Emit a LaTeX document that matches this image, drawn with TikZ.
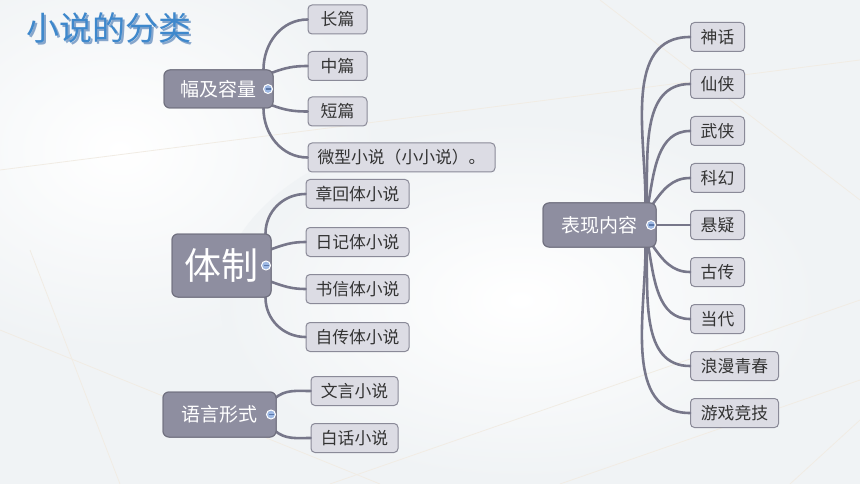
\documentclass[tikz,border=0pt]{standalone}
\usepackage{fontspec}
\setmainfont{Noto Sans CJK SC}
\newfontfamily\cjk{Noto Sans CJK SC}
\usetikzlibrary{calc}
\definecolor{bgc}{HTML}{F0F3F5}
\definecolor{pfill}{HTML}{8E8EA0}
\definecolor{pdraw}{HTML}{70707F}
\definecolor{cfill}{HTML}{DCDCE4}
\definecolor{cdraw}{HTML}{8A8A98}
\definecolor{linkc}{HTML}{77778A}
\definecolor{ctext}{HTML}{333333}
\definecolor{titlec}{HTML}{3E88CC}
\definecolor{titlesh}{HTML}{86A6CC}
\definecolor{iconf}{HTML}{9DB8E4}
\definecolor{iconbar}{HTML}{5C78A8}
\definecolor{decoline}{HTML}{F1ECE4}
\tikzset{
  parentbox/.style={draw=pdraw, line width=1pt, fill=pfill, rounded corners=6pt, text=white, inner sep=0pt, font=\cjk\fontsize{19}{22}\selectfont},
  childbox/.style={draw=cdraw, line width=1pt, fill=cfill, rounded corners=4pt, text=ctext, inner sep=0pt, minimum height=29pt, font=\cjk\fontsize{16.8}{20}\selectfont},
  link/.style={draw=linkc, line width=2.6pt, line cap=round},
  minusicon/.style={circle, draw=white, line width=1pt, fill=iconf, minimum size=9pt, inner sep=0pt},
}
\newcommand{\minusmark}[1]{%
  \node[minusicon] (#1i) at ($(#1.east)+(-5.5,0)$) {};
  \draw[iconbar, line width=1.1pt] ($(#1i.center)+(-2.5,0)$) -- ($(#1i.center)+(2.5,0)$);}
\newcommand{\shadowtext}[1]{\rlap{\kern2pt\raisebox{-2pt}{\textcolor{titlesh}{#1}}}\textcolor{titlec}{#1}}
\begin{document}
\begin{tikzpicture}[x=1pt,y=-1pt]
\useasboundingbox (0,0) rectangle (860,484);
% background
\fill[bgc] (0,0) rectangle (860,484);
\shade[inner color=white, outer color=bgc] (120,150) ellipse (260 and 200);
\shade[inner color=white, outer color=bgc] (520,300) ellipse (300 and 180);
\draw[decoline, line width=0.8pt] (0,170) -- (860,60);
\draw[decoline, line width=0.8pt] (600,0) -- (860,200);
\draw[decoline, line width=0.8pt] (330,484) -- (860,300);
\draw[decoline, line width=0.8pt] (120,484) -- (30,250);
\draw[decoline, line width=0.8pt] (560,484) -- (860,380);
\draw[decoline, line width=0.8pt] (790,484) -- (860,420);
\draw[decoline, line width=0.8pt] (0,330) -- (380,484);
% title
\node[anchor=west, inner sep=0pt, font=\cjk\fontsize{33}{36}\selectfont] (title) at (26,29) {\shadowtext{小说的分类}};

% group 1
\node[parentbox, minimum width=109pt, minimum height=38pt] (p1) at (218.5,89) {幅及容量};
\node[childbox, minimum width=59pt] (c1a) at (337.5,19.5) {长篇};
\node[childbox, minimum width=59pt] (c1b) at (337.5,66) {中篇};
\node[childbox, minimum width=59pt] (c1c) at (337.5,111.5) {短篇};
\node[childbox, minimum width=187pt] (c1d) at (401.5,157.5) {微型小说（小小说）。};

% group 2
\node[parentbox, minimum width=99pt, minimum height=63pt, font=\cjk\fontsize{37}{40}\selectfont] (p2) at (221.5,265.5) {体制};
\node[childbox, minimum width=103pt] (c2a) at (357.5,194) {章回体小说};
\node[childbox, minimum width=103pt] (c2b) at (357.5,242) {日记体小说};
\node[childbox, minimum width=103pt] (c2c) at (357.5,289) {书信体小说};
\node[childbox, minimum width=103pt] (c2d) at (357.5,337) {自传体小说};

% group 3
\node[parentbox, minimum width=113pt, minimum height=45pt] (p3) at (219.5,414.5) {语言形式};
\node[childbox, minimum width=87pt] (c3a) at (354.5,391) {文言小说};
\node[childbox, minimum width=87pt] (c3b) at (354.5,438) {白话小说};

% group 4
\node[parentbox, minimum width=113pt, minimum height=44pt] (p4) at (599.5,225) {表现内容};
\node[childbox, minimum width=54pt, anchor=west] (c4a) at (690,37) {神话};
\node[childbox, minimum width=54pt, anchor=west] (c4b) at (690,84) {仙侠};
\node[childbox, minimum width=54pt, anchor=west] (c4c) at (690,131) {武侠};
\node[childbox, minimum width=54pt, anchor=west] (c4d) at (690,178) {科幻};
\node[childbox, minimum width=54pt, anchor=west] (c4e) at (690,225) {悬疑};
\node[childbox, minimum width=54pt, anchor=west] (c4f) at (690,272) {古传};
\node[childbox, minimum width=54pt, anchor=west] (c4g) at (690,319) {当代};
\node[childbox, minimum width=88pt, anchor=west] (c4h) at (690,366) {浪漫青春};
\node[childbox, minimum width=88pt, anchor=west] (c4i) at (690,413) {游戏竞技};

% connectors
\draw[link] ($(p1.north east)+(-10,0)$) to[out=90,in=180] (c1a.west);
\draw[link] ($(p1.north east)+(-1,3)$) to[out=20,in=180] (c1b.west);
\draw[link] ($(p1.south east)+(-1,-3)$) to[out=-20,in=180] (c1c.west);
\draw[link] ($(p1.south east)+(-10,0)$) to[out=-90,in=180] (c1d.west);

\draw[link] ($(p2.north east)+(-6,0)$) to[out=90,in=180] (c2a.west);
\draw[link] ($(p2.north east)+(-1,16)$) to[out=20,in=180] (c2b.west);
\draw[link] ($(p2.south east)+(-1,-16)$) to[out=-20,in=180] (c2c.west);
\draw[link] ($(p2.south east)+(-6,0)$) to[out=-90,in=180] (c2d.west);

\draw[link] ($(p3.north east)+(-2,7)$) to[out=40,in=180] (c3a.west);
\draw[link] ($(p3.south east)+(-2,-7)$) to[out=-40,in=180] (c3b.west);

\draw[link] ($(p4.north east)+(-11,0)$) to[out=90,in=180] (c4a.west);
\draw[link] ($(p4.north east)+(-10,0)$) to[out=88,in=180] (c4b.west);
\draw[link] ($(p4.north east)+(-8,0)$) to[out=80,in=180] (c4c.west);
\draw[link] ($(p4.north east)+(-4,2)$) to[out=55,in=180] (c4d.west);
\draw[link] (p4.east) -- (c4e.west);
\draw[link] ($(p4.south east)+(-4,-2)$) to[out=-55,in=180] (c4f.west);
\draw[link] ($(p4.south east)+(-8,0)$) to[out=-80,in=180] (c4g.west);
\draw[link] ($(p4.south east)+(-10,0)$) to[out=-88,in=180] (c4h.west);
\draw[link] ($(p4.south east)+(-11,0)$) to[out=-90,in=180] (c4i.west);

% redraw parents on top of connector ends
\node[parentbox, minimum width=109pt, minimum height=38pt] at (p1.center) {幅及容量};
\node[parentbox, minimum width=99pt, minimum height=63pt, font=\cjk\fontsize{37}{40}\selectfont] at (p2.center) {体制};
\node[parentbox, minimum width=113pt, minimum height=45pt] at (p3.center) {语言形式};
\node[parentbox, minimum width=113pt, minimum height=44pt] at (p4.center) {表现内容};

\minusmark{p1}
\minusmark{p2}
\minusmark{p3}
\minusmark{p4}
\end{tikzpicture}
\end{document}
